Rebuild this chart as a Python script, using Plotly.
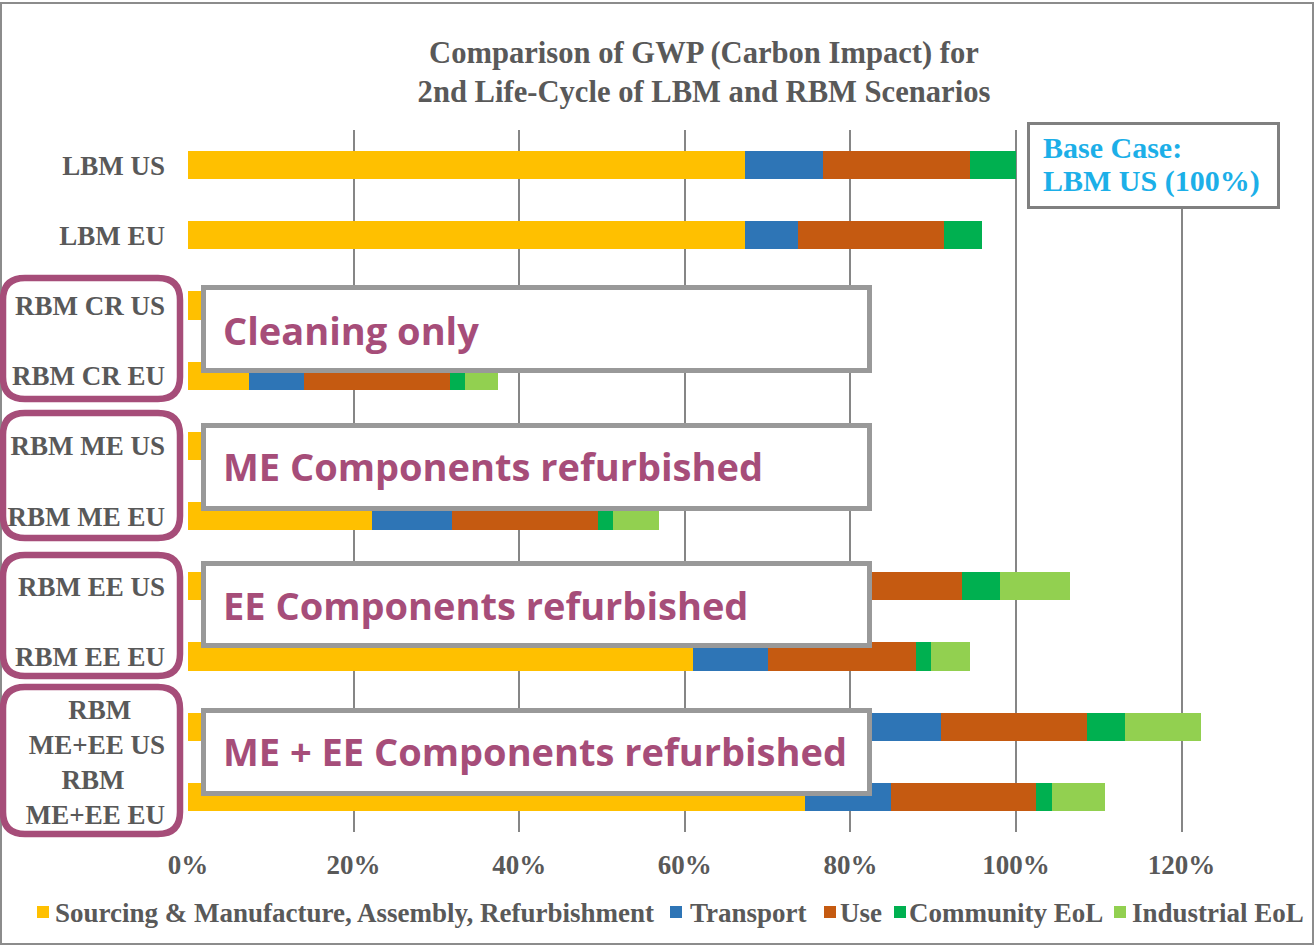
import plotly.graph_objects as go

# ---------------- data ----------------
categories = ["LBM US", "LBM EU", "RBM CR US", "RBM CR EU", "RBM ME US", "RBM ME EU",
              "RBM EE US", "RBM EE EU", "RBM ME+EE US", "RBM ME+EE EU"]
NB = "\u00a0"
tick_labels = ["LBM US", "LBM EU", "RBM CR US", "RBM CR EU", "RBM ME US", "RBM ME EU",
               "RBM EE US", "RBM EE EU", "RBM" + NB * 5 + "<br>ME+EE US", "RBM" + NB * 6 + "<br>ME+EE EU"]
series_names = ["Sourcing & Manufacture, Assembly, Refurbishment", "Transport", "Use",
                "Community EoL", "Industrial EoL"]
sourcing = [0.673, 0.673, 0.074, 0.074, 0.222, 0.222, 0.610, 0.610, 0.745, 0.745]
transport = [0.094, 0.064, 0.125, 0.066, 0.150, 0.097, 0.149, 0.091, 0.165, 0.104]
use = [0.177, 0.176, 0.176, 0.176, 0.176, 0.176, 0.176, 0.178, 0.176, 0.175]
community = [0.056, 0.046, 0.046, 0.018, 0.046, 0.018, 0.046, 0.018, 0.046, 0.019]
industrial = [0.0, 0.0, 0.084, 0.040, 0.084, 0.056, 0.084, 0.048, 0.091, 0.065]
x_ticks = [0, 0.2, 0.4, 0.6, 0.8, 1.0, 1.2]
group_labels = ["Cleaning only", "ME Components refurbished", "EE Components refurbished",
                "ME + EE Components refurbished"]
title_text = "Comparison of GWP (Carbon Impact) for<br>2nd Life-Cycle of LBM and RBM Scenarios"
base_case_lines = ["Base Case:", "LBM US (100%)"]

# ---------------- styling ----------------
colors = ["#FFC000", "#2E75B6", "#C55A11", "#00B050", "#92D050"]
GRAY_TXT = "#595959"
PURPLE = "#A64D79"
SERIF = "Liberation Serif, Times New Roman, serif"
SANS = "Open Sans, Noto Sans, sans-serif"

FW, FH = 1316, 947
L, R, T, B = 188, 1310, 130, 832
W, H = R - L, B - T


def px(x):
    return (x - L) / W


def py(y):
    return (B - y) / H


def rrect(x0, y0, x1, y1, r):
    pts = [
        ("M", x0 + r, y0), ("L", x1 - r, y0), ("Q", x1, y0, x1, y0 + r),
        ("L", x1, y1 - r), ("Q", x1, y1, x1 - r, y1), ("L", x0 + r, y1),
        ("Q", x0, y1, x0, y1 - r), ("L", x0, y0 + r), ("Q", x0, y0, x0 + r, y0),
    ]
    s = ""
    for p in pts:
        cmd = p[0]
        coords = p[1:]
        parts = []
        for i in range(0, len(coords), 2):
            parts.append(f"{px(coords[i]):.5f},{py(coords[i + 1]):.5f}")
        s += cmd + " " + " ".join(parts) + " "
    return s + "Z"


fig = go.Figure()
all_series = [sourcing, transport, use, community, industrial]
for name, vals, col in zip(series_names, all_series, colors):
    fig.add_trace(go.Bar(
        y=categories, x=vals, name=name, orientation="h",
        marker=dict(color=col, line=dict(width=0)), showlegend=False,
    ))

shapes = []
annotations = []

# outer chart border
shapes.append(dict(type="rect", xref="paper", yref="paper",
                   x0=px(1), x1=px(1313), y0=py(944), y1=py(3),
                   line=dict(color="#8c8c8c", width=2), fillcolor="rgba(0,0,0,0)", layer="below"))

# purple rounded boxes around y labels
purple_boxes = [(3, 278, 180, 399), (3, 413, 180, 538), (3, 555, 180, 676), (3, 687, 180, 834)]
for (x0, y0, x1, y1) in purple_boxes:
    shapes.append(dict(type="path", xref="paper", yref="paper", path=rrect(x0, y0, x1, y1, 22),
                       line=dict(color=PURPLE, width=6.5), fillcolor="rgba(0,0,0,0)", layer="above"))

# gray overlay label boxes
gray_boxes = [(203.5, 287.5, 869.5, 370.5), (203.5, 425.5, 869.5, 508.5),
              (203.5, 563.5, 869.5, 645.5), (203.5, 710.5, 869.5, 793.5)]
text_y = [330, 466, 605, 751]
for (x0, y0, x1, y1), lab, ty in zip(gray_boxes, group_labels, text_y):
    shapes.append(dict(type="rect", xref="paper", yref="paper",
                       x0=px(x0), x1=px(x1), y0=py(y1), y1=py(y0),
                       line=dict(color="#999999", width=5), fillcolor="white", layer="above"))
    annotations.append(dict(xref="paper", yref="paper", x=px(221), y=py(ty),
                            xanchor="left", yanchor="middle", showarrow=False,
                            text=lab, font=dict(family=SANS, size=38, color=PURPLE, weight="bold")))

# base case box
shapes.append(dict(type="rect", xref="paper", yref="paper",
                   x0=px(1028.5), x1=px(1278.5), y0=py(207.5), y1=py(123.5),
                   line=dict(color="#808080", width=3), fillcolor="white", layer="above"))
for line_txt, ly in zip(base_case_lines, [147, 181]):
    annotations.append(dict(xref="paper", yref="paper", x=px(1041), y=py(ly),
                            xanchor="left", yanchor="middle", showarrow=False,
                            text=line_txt, font=dict(family=SERIF, size=30, color="#1CAFE8", weight="bold")))

# manual legend
legend_pos = [(37, 55), (670, 690), (824, 840), (894, 909), (1114, 1132)]
for name, col, (sx, tx) in zip(series_names, colors, legend_pos):
    shapes.append(dict(type="rect", xref="paper", yref="paper",
                       x0=px(sx), x1=px(sx + 12), y0=py(918), y1=py(906),
                       line=dict(width=0), fillcolor=col, layer="above"))
    annotations.append(dict(xref="paper", yref="paper", x=px(tx - 2), y=py(913),
                            xanchor="left", yanchor="middle", showarrow=False,
                            text=name, font=dict(family=SERIF, size=27, color=GRAY_TXT, weight="bold")))

fig.update_layout(
    width=FW, height=FH,
    margin=dict(l=L, r=FW - R, t=T, b=FH - B, pad=0),
    paper_bgcolor="white", plot_bgcolor="white",
    barmode="stack", bargap=0.6,
    title=dict(text=title_text, x=704 / FW, xanchor="center", y=1 - 62.5 / FH, yanchor="middle",
               font=dict(family=SERIF, size=30.6, color=GRAY_TXT, weight="bold")),
    xaxis=dict(range=[0, (R - L) / 828], tickvals=x_ticks, tickformat=".0%",
               showgrid=True, gridcolor="#868686", gridwidth=2, zeroline=False,
               showline=False, ticks="", ticklabelstandoff=14,
               tickfont=dict(family=SERIF, size=27, color=GRAY_TXT, weight="bold")),
    yaxis=dict(categoryorder="array", categoryarray=categories, autorange="reversed",
               tickvals=categories, ticktext=tick_labels, showgrid=False, zeroline=False,
               showline=False, ticks="", ticklabelstandoff=22,
               tickfont=dict(family=SERIF, size=27, color=GRAY_TXT, weight="bold")),
    shapes=shapes, annotations=annotations,
)

fig.write_html("out.html", config={"displayModeBar": False},
               post_script="document.body.style.margin='0px';document.body.style.overflow='hidden';")
